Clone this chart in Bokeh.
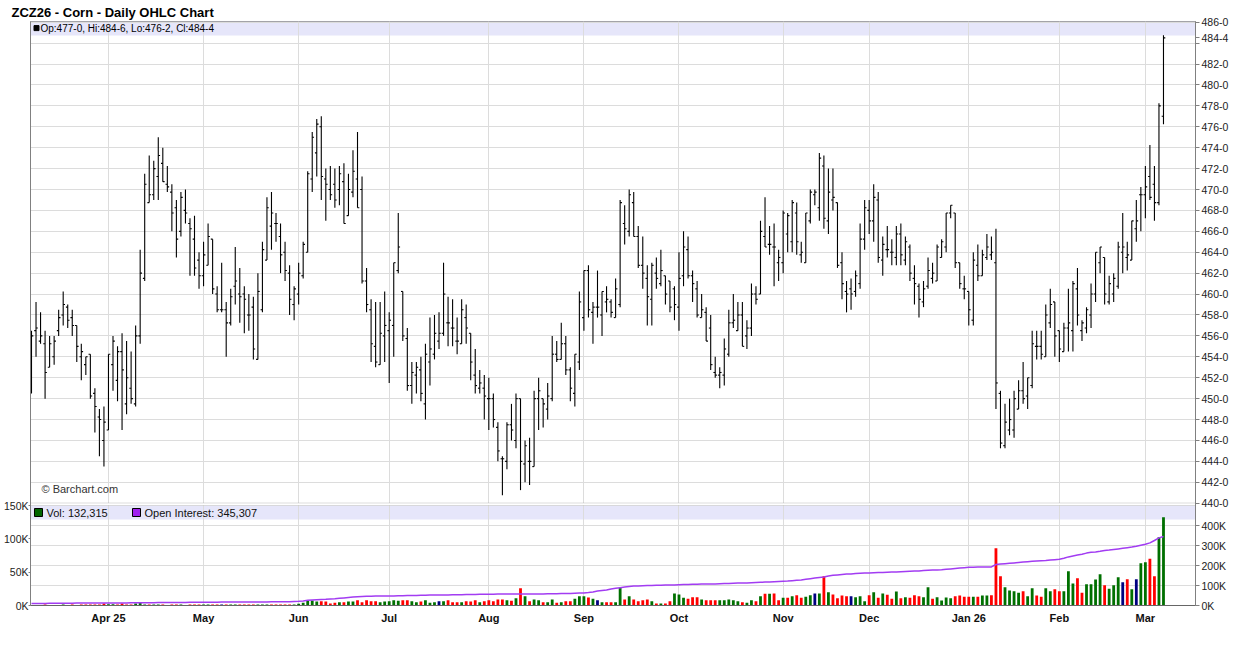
import pandas as pd
from bokeh.plotting import figure
from bokeh.models import (Range1d, LinearAxis, FixedTicker, Label, BoxAnnotation,
                          ColumnDataSource, CustomJSTickFormatter)
from bokeh.transform import dodge
from bokeh.embed import file_html
from bokeh.resources import INLINE

FONT = "Liberation Sans"

# ---------------- data (ZCZ26 daily, Mar 7 2025 .. Mar 6 2026) ----------------
opens = [
    454.0, 456.5, 455.5, 455.25, 453.0, 454.0, 456.5, 458.0, 458.75, 457.75,
    457.0, 454.0, 453.25, 454.25, 450.5, 448.25, 446.0, 447.0, 453.25, 451.75,
    454.5, 449.5, 451.0, 449.5, 456.0, 461.5, 468.75, 469.5, 471.25, 472.5,
    470.5, 469.75, 468.25, 466.0, 468.0, 466.75, 465.25, 463.25, 461.75, 462.75,
    465.25, 460.0, 458.5, 458.5, 457.25, 460.75, 460.0, 460.0, 458.0, 458.75,
    453.75, 458.5, 463.25, 466.5, 466.75, 465.5, 464.0, 462.0, 459.0, 460.0,
    461.75, 464.0, 471.0, 473.5, 476.0, 471.0, 470.0, 470.5, 470.0, 470.75,
    467.5, 469.75, 471.0, 470.0, 461.25, 458.5, 455.0, 453.25, 456.0, 456.5,
    457.0, 462.25, 460.25, 455.75, 451.25, 452.25, 452.75, 449.5, 453.5, 454.25,
    455.5, 456.25, 457.25, 456.75, 455.5, 455.25, 457.75, 456.25, 452.25, 451.0,
    451.0, 450.0, 450.0, 447.25, 444.25, 444.0, 447.5, 446.0, 450.0, 443.75,
    444.0, 443.5, 450.0, 450.0, 449.0, 450.0, 454.25, 453.75, 455.25, 452.75,
    450.5, 453.5, 457.75, 462.25, 458.25, 458.75, 458.0, 459.25, 459.25, 457.75,
    459.0, 466.75, 466.0, 468.75, 465.5, 462.75, 461.5, 459.5, 462.0, 461.0,
    461.75, 461.25, 460.5, 458.75, 461.75, 464.25, 461.75, 460.5, 457.75, 458.25,
    456.75, 452.5, 452.25, 452.25, 454.25, 457.25, 456.5, 458.0, 456.0, 456.75,
    460.0, 460.0, 465.5, 464.75, 464.5, 463.0, 463.0, 465.75, 465.0, 467.75,
    463.75, 463.0, 467.0, 469.5, 468.25, 472.25, 467.0, 469.0, 468.75, 463.0,
    460.25, 460.5, 460.25, 461.0, 465.25, 468.0, 467.0, 469.0, 463.25, 464.25,
    464.0, 463.5, 465.75, 463.25, 464.5, 461.5, 460.75, 459.25, 460.75, 461.5,
    461.25, 463.5, 464.5, 467.75, 467.75, 463.0, 460.5, 460.25, 457.5, 462.75,
    461.75, 463.5, 463.75, 463.0, 450.5, 445.5, 447.0, 447.0, 449.0, 450.75,
    450.25, 451.25, 455.0, 455.0, 454.0, 457.25, 459.25, 456.5, 454.5, 456.75,
    456.5, 460.5, 456.5, 456.75, 458.0, 460.0, 463.0, 463.5, 459.25, 460.0,
    460.75, 464.0, 463.5, 463.25, 466.25, 469.5, 469.5, 471.25, 470.5, 468.75,
    477.0,
]
highs = [
    456.5, 459.25, 458.25, 456.5, 456.0, 456.0, 458.5, 460.25, 459.0, 458.5,
    457.0, 455.25, 454.0, 454.25, 451.0, 449.0, 449.25, 454.25, 456.0, 455.0,
    456.25, 455.5, 454.5, 457.0, 464.25, 471.5, 473.25, 472.75, 475.0, 474.0,
    472.25, 470.5, 469.0, 469.75, 470.0, 467.25, 467.5, 464.0, 465.0, 466.75,
    465.25, 460.75, 463.0, 459.25, 460.5, 464.5, 462.5, 460.75, 460.0, 459.75,
    462.0, 465.0, 469.25, 469.75, 467.75, 466.75, 465.0, 462.75, 460.75, 463.0,
    465.0, 471.75, 475.5, 476.75, 477.0, 472.0, 472.25, 472.0, 472.25, 472.5,
    471.5, 473.75, 475.5, 471.25, 462.5, 459.5, 459.25, 459.25, 460.25, 458.25,
    463.0, 467.75, 460.25, 456.75, 453.5, 453.5, 454.0, 455.25, 457.75, 458.0,
    458.25, 463.0, 459.75, 459.5, 457.75, 459.5, 459.0, 456.25, 454.75, 452.75,
    452.25, 452.0, 450.5, 447.75, 444.5, 447.75, 449.5, 450.5, 450.0, 446.0,
    446.25, 450.75, 452.0, 450.0, 451.5, 456.0, 455.5, 457.25, 456.0, 453.0,
    454.25, 460.25, 462.25, 462.75, 459.25, 462.25, 460.25, 460.75, 459.5, 461.5,
    469.0, 468.5, 470.0, 469.75, 466.5, 465.5, 462.75, 463.0, 463.5, 464.25,
    461.75, 461.25, 460.75, 464.0, 466.0, 465.5, 462.25, 461.25, 460.0, 458.75,
    458.0, 454.0, 453.0, 455.75, 458.5, 460.0, 459.25, 459.25, 457.5, 461.0,
    460.75, 467.0, 469.25, 466.5, 466.75, 464.25, 468.0, 467.75, 469.0, 468.75,
    465.0, 467.75, 470.0, 470.0, 473.5, 473.25, 472.0, 472.0, 468.75, 464.0,
    461.25, 461.5, 462.25, 466.75, 469.0, 469.0, 470.5, 469.75, 465.5, 466.5,
    465.25, 466.5, 466.75, 465.5, 464.75, 462.75, 461.0, 461.25, 463.5, 463.0,
    464.75, 465.25, 467.75, 468.5, 467.75, 463.0, 461.75, 460.25, 464.0, 464.75,
    464.25, 465.75, 465.5, 466.25, 450.75, 449.5, 450.0, 450.75, 451.75, 453.5,
    452.0, 456.5, 456.5, 456.5, 459.0, 460.5, 459.25, 456.5, 457.25, 460.5,
    461.25, 462.5, 457.5, 458.75, 461.0, 464.0, 464.5, 463.5, 461.75, 462.0,
    465.0, 467.75, 465.0, 467.0, 469.0, 470.25, 472.25, 474.25, 472.25, 478.25,
    484.75,
]
lows = [
    450.5, 454.0, 455.25, 450.0, 453.0, 453.25, 456.0, 457.0, 456.75, 456.0,
    453.5, 451.75, 452.25, 450.0, 446.75, 444.5, 443.5, 447.0, 450.75, 449.75,
    447.0, 448.5, 449.5, 449.25, 455.25, 461.25, 468.75, 469.0, 469.0, 470.75,
    469.75, 466.0, 463.5, 465.5, 466.75, 461.75, 461.75, 460.5, 460.75, 462.75,
    460.0, 458.25, 458.25, 454.0, 457.0, 459.0, 457.25, 456.25, 456.5, 453.75,
    453.75, 458.25, 463.25, 464.25, 465.0, 462.0, 461.25, 458.0, 457.5, 459.0,
    461.5, 464.0, 469.75, 471.25, 469.0, 467.0, 469.0, 468.25, 468.5, 466.75,
    467.5, 469.25, 468.25, 461.0, 458.25, 453.5, 453.0, 453.25, 453.5, 451.5,
    454.0, 462.0, 455.5, 450.75, 449.5, 450.5, 449.75, 448.0, 451.25, 453.75,
    454.75, 456.0, 455.0, 455.0, 454.25, 455.25, 455.25, 451.75, 450.5, 450.5,
    448.0, 447.0, 447.25, 444.0, 440.75, 443.25, 446.0, 445.25, 441.25, 442.0,
    441.75, 443.5, 447.0, 447.25, 448.0, 449.75, 453.5, 453.75, 452.25, 449.75,
    449.25, 452.75, 456.5, 457.75, 455.25, 457.75, 456.0, 458.25, 457.75, 457.75,
    458.75, 464.75, 465.5, 465.5, 462.5, 460.5, 457.0, 457.0, 460.5, 460.75,
    459.0, 458.25, 457.5, 456.5, 460.75, 461.5, 459.25, 457.75, 457.75, 455.5,
    452.75, 452.0, 451.0, 451.25, 454.0, 456.75, 456.5, 455.0, 454.75, 456.0,
    459.0, 460.0, 464.5, 463.75, 460.75, 461.25, 462.0, 464.0, 464.0, 463.75,
    463.0, 463.0, 466.75, 468.5, 467.0, 466.25, 465.75, 468.0, 462.5, 459.5,
    458.25, 458.5, 459.75, 460.5, 464.25, 465.75, 465.0, 463.0, 461.75, 463.5,
    462.75, 462.75, 462.75, 462.75, 461.25, 459.0, 457.75, 458.75, 460.5, 461.0,
    461.25, 463.5, 464.0, 467.25, 462.5, 460.5, 459.5, 457.0, 457.0, 461.25,
    461.75, 463.25, 463.25, 449.0, 445.25, 445.25, 446.5, 446.25, 449.0, 449.5,
    449.0, 451.0, 453.75, 453.75, 454.0, 456.75, 454.0, 453.5, 454.5, 454.5,
    454.5, 457.0, 455.5, 456.25, 456.75, 459.25, 462.0, 459.0, 459.0, 459.25,
    460.5, 462.0, 462.25, 463.25, 465.0, 466.0, 467.25, 469.0, 467.0, 468.5,
    476.25,
]
closes = [
    456.0, 456.75, 456.0, 452.5, 455.25, 455.5, 457.75, 459.0, 457.5, 457.0,
    455.0, 454.5, 454.0, 450.25, 449.25, 448.0, 447.75, 454.25, 455.5, 454.5,
    452.75, 452.0, 450.0, 456.0, 462.0, 470.5, 469.5, 472.0, 473.25, 470.75,
    470.25, 467.75, 465.25, 469.25, 467.75, 466.25, 462.5, 461.75, 463.75, 465.5,
    460.5, 458.5, 458.5, 457.25, 459.75, 461.25, 459.75, 459.5, 458.0, 454.75,
    460.25, 464.25, 468.25, 467.75, 466.75, 463.75, 462.25, 459.5, 460.5, 462.0,
    464.75, 471.5, 475.0, 476.25, 471.25, 470.5, 469.5, 469.0, 471.5, 466.75,
    470.0, 471.75, 468.25, 461.25, 459.0, 455.25, 453.5, 456.25, 457.0, 457.5,
    463.0, 464.5, 456.0, 451.25, 452.5, 453.0, 450.5, 454.25, 454.75, 456.25,
    456.25, 460.0, 457.25, 456.75, 455.5, 458.5, 456.75, 453.5, 451.25, 451.5,
    450.25, 450.0, 448.0, 445.0, 444.25, 447.5, 447.0, 450.0, 444.0, 445.5,
    444.0, 450.0, 450.75, 449.5, 450.25, 454.25, 453.75, 455.25, 452.75, 451.0,
    454.25, 459.25, 462.25, 458.5, 458.75, 458.75, 460.25, 459.5, 458.25, 460.5,
    468.75, 466.25, 469.5, 465.5, 462.75, 462.0, 459.75, 462.75, 461.5, 462.25,
    460.0, 458.75, 459.0, 461.5, 464.5, 461.75, 461.0, 458.0, 458.5, 455.5,
    453.25, 452.25, 452.5, 454.75, 457.25, 457.5, 458.0, 455.0, 456.75, 460.0,
    459.5, 466.0, 464.5, 464.75, 464.5, 463.5, 467.75, 467.5, 468.75, 465.0,
    464.0, 467.75, 469.75, 469.75, 473.0, 467.25, 469.75, 469.25, 462.75, 461.0,
    460.0, 460.0, 461.75, 465.25, 468.25, 467.0, 469.25, 463.5, 464.75, 464.25,
    464.0, 465.75, 463.75, 465.0, 462.0, 461.0, 459.5, 460.5, 462.25, 462.0,
    464.5, 465.0, 467.75, 468.5, 463.0, 461.0, 460.5, 458.5, 463.25, 461.75,
    463.75, 464.5, 464.0, 451.5, 445.75, 447.75, 448.0, 450.0, 450.75, 450.0,
    452.0, 455.25, 455.0, 454.25, 458.0, 459.0, 456.0, 454.75, 456.75, 457.25,
    461.0, 458.0, 457.25, 458.5, 460.0, 464.0, 464.5, 460.0, 461.0, 461.5,
    464.5, 464.5, 463.75, 467.0, 467.0, 469.5, 470.25, 469.25, 468.75, 478.0,
    484.5,
]
# volume, thousands of contracts
volume_k = [
    0.5, 0.5, 0.5, 1.5, 0.5, 0.5, 0.5, 1.5, 0.5, 1.5,
    0.5, 1.5, 1.5, 1.5, 1.5, 1.5, 3.0, 2.0, 2.0, 1.5,
    3.0, 1.5, 1.5, 3.0, 4.0, 1.5, 1.5, 1.5, 1.5, 1.5,
    0.5, 1.5, 1.5, 1.5, 0.5, 1.5, 1.5, 1.5, 1.5, 1.5,
    1.5, 1.5, 1.5, 1.5, 1.5, 1.5, 1.5, 1.5, 1.5, 1.5,
    1.5, 1.5, 1.5, 1.5, 1.5, 1.5, 1.5, 1.5, 1.5, 2.5,
    4.0, 7.0, 7.5, 6.0, 6.5, 6.0, 3.0, 4.0, 5.0, 5.0,
    6.0, 6.0, 8.0, 5.0, 8.0, 6.5, 6.5, 5.0, 6.0, 6.5,
    8.0, 7.0, 8.0, 8.0, 6.5, 5.0, 6.0, 8.0, 4.0, 5.0,
    6.5, 6.5, 8.0, 5.0, 5.0, 5.0, 6.5, 6.0, 8.0, 5.0,
    6.5, 8.0, 6.5, 9.0, 9.0, 8.0, 7.0, 11.0, 26.0, 14.0,
    6.5, 9.0, 8.0, 5.0, 5.0, 9.0, 4.0, 5.0, 6.5, 6.5,
    10.0, 14.0, 14.0, 12.0, 10.0, 8.0, 5.0, 5.0, 5.0, 5.0,
    26.5, 9.0, 14.0, 9.0, 6.5, 8.0, 9.0, 6.5, 3.0, 3.0,
    3.0, 6.5, 18.0, 16.5, 11.5, 10.0, 12.5, 12.5, 9.0, 8.0,
    8.0, 8.0, 8.0, 8.0, 9.0, 8.0, 6.5, 5.0, 4.0, 8.0,
    6.5, 14.0, 17.5, 17.5, 18.0, 8.0, 11.5, 11.5, 14.0, 15.5,
    11.5, 13.0, 15.5, 18.0, 18.0, 44.0, 20.0, 16.5, 11.0, 15.0,
    14.0, 14.0, 12.5, 14.0, 6.5, 15.5, 20.0, 11.5, 18.0, 16.0,
    10.0, 21.0, 11.0, 12.5, 11.5, 15.5, 14.0, 12.5, 27.5, 10.0,
    12.5, 7.5, 12.0, 11.0, 14.0, 15.0, 13.0, 13.0, 13.0, 13.0,
    15.0, 15.0, 15.5, 86.0, 44.0, 27.5, 22.5, 21.5, 19.0, 21.5,
    14.0, 26.0, 15.0, 13.0, 26.0, 21.5, 24.5, 21.5, 21.5, 51.5,
    33.0, 41.0, 19.0, 32.0, 32.0, 39.0, 47.0, 30.5, 25.0, 30.5,
    42.5, 35.0, 39.5, 24.5, 39.5, 63.5, 65.0, 70.0, 44.0, 102.5,
    132.315,
]
# open interest, thousands of contracts
open_interest_k = [
    10, 10, 10, 10, 11, 11, 11, 11, 11, 11, 12, 12, 12, 12, 12, 12, 13,
    13, 13, 13, 13, 13, 14, 14, 14, 14, 14, 14, 15, 15, 15, 15, 15, 15, 15, 16, 16, 16,
    16, 16, 16, 16, 17, 17, 17, 17, 17, 17, 18, 18, 18, 18, 18, 19, 19, 19, 19, 19, 20,
    21, 23, 26, 28, 29, 30, 31, 33, 34, 36, 38, 40, 42, 44, 45, 46, 46, 47, 47, 48,
    48, 48, 49, 49, 50, 50, 50, 51, 51, 52, 52, 52, 53, 53, 54, 54, 54, 55, 55, 55, 56, 56,
    56, 56, 57, 57, 57, 57, 58, 58, 57, 57, 58, 58, 58, 59, 59, 59, 60, 60, 60, 61, 62,
    63, 65, 68, 72, 75, 78, 83, 86, 89, 92, 95, 97, 98, 99, 100, 100, 101, 101, 102, 102, 103,
    104, 105, 105, 106, 106, 107, 107, 108, 108, 109, 110, 110, 111, 112, 112, 113, 114, 115,
    116, 117, 118, 119, 120,
    121, 122, 124, 126, 128, 131, 134, 137, 140, 143, 148, 151, 153, 155, 157, 158, 160, 161, 162,
    163, 164, 165, 165, 166, 167, 168, 169, 170, 171, 172, 173, 175, 176, 177, 178, 179, 181,
    183, 185, 187, 189,
    191, 191, 192, 192, 193, 193, 205, 207, 209, 211, 213, 215, 217, 219, 221, 223, 224, 225,
    227, 229,
    231, 236, 243, 248, 252, 256, 262, 266, 268, 271, 275, 277, 280, 283, 286, 289, 292, 296, 301,
    306, 313, 325, 338, 345.307,
]
month_labels = ["Apr 25", "May", "Jun", "Jul", "Aug", "Sep", "Oct", "Nov", "Dec",
                "Jan 26", "Feb", "Mar"]
price_ticks = list(range(440, 488, 2))
vol_ticks_k = [0, 50, 100, 150]
oi_ticks_k = [0, 100, 200, 300, 400]
title_text = "ZCZ26 - Corn - Daily OHLC Chart"
header_text = "Op:477-0, Hi:484-6, Lo:476-2, Cl:484-4"
last_price = 484.5
last_price_text = "484-4"
vol_text = "Vol: 132,315"
oi_text = "Open Interest: 345,307"

holidays = ["2025-04-18", "2025-05-26", "2025-06-19", "2025-07-04", "2025-09-01",
            "2025-11-27", "2025-12-25", "2026-01-01", "2026-01-19", "2026-02-16"]
dates = [d for d in pd.bdate_range("2025-03-07", "2026-03-06")
         if d.strftime("%Y-%m-%d") not in holidays]
n = len(closes)
dates = dates[:n]
month_ticks = [i for i in range(1, n) if dates[i].month != dates[i - 1].month]

# ---------------- styling / geometry ----------------
GREEN, RED, NAVY = "#007000", "#ff0000", "#000080"
LAV = "#e6e6fa"
OI_COLOR = "#a23cf2"
GRID = "#dcdcdc"
FRAME_L, FRAME_T = 29, 20
FW, FH = 1165, 584
X0, X1 = -0.22, 257.07
PX_X = FW / (X1 - X0)
PX_Y = 481.0 / 46.0            # px per cent in the price panel
PRICE_TOP = 486.0 + 0.7 / PX_Y
PRICE_BOTTOM = PRICE_TOP - FH / PX_Y
VOL_TOP = FH * 1500.0          # 1.5K contracts per px
OI_TOP = FH * 5000.0           # 5K contracts per px


def fx(px):
    """x data value at a pixel offset from the frame's left edge"""
    return X0 + px / PX_X


def fy(py):
    """price value at a pixel offset below the frame's top edge"""
    return PRICE_TOP - py / PX_Y


colors = []
for i, c in enumerate(closes):
    prev = closes[i - 1] if i else opens[0]
    colors.append(GREEN if c > prev else (RED if c < prev else NAVY))

src = ColumnDataSource(dict(
    x=list(range(n)), o=opens, h=highs, l=lows, c=closes,
    vol=[v * 1000 for v in volume_k], oi=[v * 1000 for v in open_interest_k],
    color=colors))

p = figure(frame_width=FW, frame_height=FH,
           x_range=Range1d(X0, X1), y_range=Range1d(PRICE_BOTTOM, PRICE_TOP),
           output_backend="svg", toolbar_location=None, y_axis_location="right",
           min_border_left=FRAME_L, min_border_right=36, min_border_top=FRAME_T,
           min_border_bottom=0, background_fill_color="white", border_fill_color="white")
p.extra_y_ranges = {"vol": Range1d(0, VOL_TOP), "oi": Range1d(0, OI_TOP)}
p.outline_line_color = "#8c8c8c"

# title
p.title.text = title_text
p.title.align = "left"
p.title.offset = -19
p.title.standoff = 4
p.title.text_font = FONT
p.title.text_font_size = "13px"
p.title.text_font_style = "bold"
p.title.text_color = "#000000"

# right axis: price ticks + last price + open-interest ticks (all in price units)
ax = p.yaxis[0]
oi_pos = [PRICE_BOTTOM + (k * 1000 / 5000.0) / PX_Y for k in oi_ticks_k]
ax.ticker = FixedTicker(ticks=price_ticks + [last_price] + oi_pos)
ax.formatter = CustomJSTickFormatter(
    args=dict(y0=PRICE_BOTTOM, px=PX_Y, last=last_price, last_text=last_price_text),
    code="""
    if (Math.abs(tick - last) < 0.01) { return last_text; }
    if (tick > 439) { const v = Math.round(tick); return v == 484 ? "" : v + "-0"; }
    const k = Math.round((tick - y0) * px * 5000 / 100000) * 100;
    return k + "K";
""")
ax.major_tick_out = 4
ax.major_tick_in = 0
ax.minor_tick_line_color = None
ax.major_label_standoff = 2
ax.axis_line_color = "#808080"
ax.major_tick_line_color = "#808080"
ax.major_label_text_font = FONT
ax.major_label_text_font_size = "10.5px"
ax.major_label_text_color = "#222222"
p.ygrid.ticker = FixedTicker(ticks=price_ticks + oi_pos)
p.ygrid.grid_line_color = GRID

# left axis: volume
vax = LinearAxis(y_range_name="vol", ticker=FixedTicker(ticks=[k * 1000 for k in vol_ticks_k]),
                 major_label_overrides={k * 1000: f"{k}K" for k in vol_ticks_k})
vax.major_tick_out = 2
vax.major_tick_in = 0
vax.minor_tick_line_color = None
vax.major_label_standoff = 0
vax.axis_line_color = "#808080"
vax.major_tick_line_color = "#808080"
vax.major_label_text_font = FONT
vax.major_label_text_font_size = "10.5px"
vax.major_label_text_color = "#222222"
p.add_layout(vax, "left")

# bottom axis: months
xa = p.xaxis[0]
xa.ticker = FixedTicker(ticks=month_ticks)
xa.major_label_overrides = dict(zip(month_ticks, month_labels))
xa.major_tick_line_color = None
xa.minor_tick_line_color = None
xa.axis_line_color = "#666666"
xa.major_label_standoff = 0
xa.major_label_text_font = FONT
xa.major_label_text_font_size = "11px"
xa.major_label_text_font_style = "bold"
xa.major_label_text_color = "#111111"
p.xgrid.ticker = FixedTicker(ticks=month_ticks)
p.xgrid.grid_line_color = GRID

# header bands and panel separator
p.add_layout(BoxAnnotation(bottom=fy(14), top=PRICE_TOP, fill_color=LAV, fill_alpha=1,
                           line_color=None, level="image"))
p.add_layout(BoxAnnotation(bottom=129000, top=150000, y_range_name="vol", fill_color=LAV,
                           fill_alpha=1, line_color=None, level="image"))
p.add_layout(BoxAnnotation(bottom=fy(484), top=fy(481.5), fill_color="white",
                           fill_alpha=1, line_color="#8c8c8c", line_width=1, level="glyph"))

# volume bars and open interest
p.vbar(x="x", width=0.62, bottom=0, top="vol", fill_color="color", line_color=None,
       y_range_name="vol", source=src)
p.line(x="x", y="oi", line_color=OI_COLOR, line_width=1.5, y_range_name="oi", source=src)

# OHLC bars
p.segment(x0="x", y0="l", x1="x", y1="h", line_color="black", line_width=1.1, source=src)
p.segment(x0=dodge("x", -0.4), y0="o", x1="x", y1="o", line_color="black", line_width=1.1,
          source=src)
p.segment(x0="x", y0="c", x1=dodge("x", 0.4), y1="c", line_color="black", line_width=1.1,
          source=src)

# texts
hy = fy(6.6)
p.scatter(x=[fx(6)], y=[hy], marker="square", size=5, fill_color="black", line_color="black")
p.add_layout(Label(x=fx(10), y=hy, text=header_text, text_font=FONT, text_font_size="10px",
                   text_baseline="middle", text_align="left", text_color="#000000"))
p.add_layout(Label(x=fx(11), y=fy(467.5), text="\u00a9 Barchart.com",
                   text_font=FONT, text_font_size="11px", text_baseline="middle",
                   text_align="left", text_color="#333333"))

vy = 93.0 * 1500
p.scatter(x=[fx(8), fx(106)], y=[vy, vy], marker="square", size=8,
          fill_color=["#006400", "#a020f0"], line_color="black", y_range_name="vol")
p.add_layout(Label(x=fx(16), y=vy, y_range_name="vol", text=vol_text, text_font=FONT,
                   text_font_size="11px", text_baseline="middle", text_align="left",
                   text_color="#111111"))
p.add_layout(Label(x=fx(114), y=vy, y_range_name="vol", text=oi_text, text_font=FONT,
                   text_font_size="11px", text_baseline="middle", text_align="left",
                   text_color="#111111"))

open("out.html", "w").write(file_html(p, INLINE, title_text))
